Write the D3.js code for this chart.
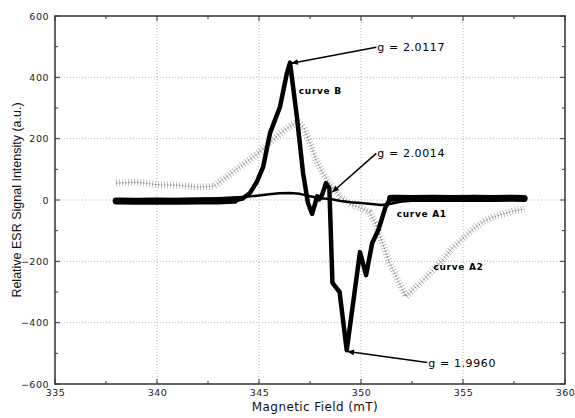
<!DOCTYPE html>
<html>
<head>
<meta charset="utf-8">
<script src="https://cdn.jsdelivr.net/npm/d3@7"></script>
<style>
  body { margin: 0; background: #fff; }
  svg { display: block; }
</style>
</head>
<body>
<div id="chart"></div>
<script>
// readings from the ESR spectrum (field in mT, intensity in a.u.)
const bField = [338, 339, 340, 341, 342, 343, 343.8, 344.2, 344.56, 344.9, 345.2, 345.54, 346.03, 346.37, 346.52,
  346.86, 347.16, 347.4, 347.6, 347.75, 347.85, 347.95, 348.1, 348.28, 348.45, 348.6, 348.95, 349.3,
  349.95, 350.25, 350.55, 350.85, 351.2, 351.45, 351.8, 352.5, 353.5, 354.5, 355.5, 356.5, 357.5, 358];
const bIntensity = [-3, -4, -3, -4, -3, -3, -1, 5, 23, 60, 107, 218, 304, 414, 448,
  270, 88, -10, -45, -12, 12, 2, 18, 55, 38, -270, -300, -490,
  -170, -245, -140, -98, -23, 6, 6, 5, 6, 5, 6, 5, 6, 5];

const a1Field = [338, 340, 342, 343, 344, 344.5, 345, 345.5, 346, 346.5, 347, 347.5, 348, 348.5, 349,
  349.5, 350, 350.5, 351, 351.4, 352, 353, 355, 358];
const a1Intensity = [0, 2, 4, 6, 9, 11, 15, 19, 22, 23, 20, 12, 6, 3, -3,
  -7, -10, -13, -16, -13, -5, 0, 2, 2];

const a2Field = [338, 339, 340, 341, 342, 342.8, 343.5, 344, 344.5, 345, 345.5, 346, 346.5, 346.9, 347.2,
  347.5, 347.8, 348.1, 348.5, 349, 349.5, 350, 350.4, 350.7, 351, 351.4, 351.8, 352.2, 352.6, 353,
  353.5, 354, 354.5, 355, 355.5, 356, 356.5, 357, 357.5, 358];
const a2Intensity = [55, 58, 50, 48, 42, 45, 80, 105, 130, 155, 185, 215, 240, 255, 235,
  185, 130, 90, 50, 10, -15, -25, -40, -75, -130, -205, -260, -315, -290, -265,
  -230, -195, -155, -125, -95, -70, -55, -45, -35, -30];

const xTicks = [335, 340, 345, 350, 355, 360];
const xMinorTicks = [337.5, 342.5, 347.5, 352.5, 357.5];
const yTicks = [-600, -400, -200, 0, 200, 400, 600];
const yMinorTicks = [-500, -300, -100, 100, 300, 500];

const curveLabels = [
  { text: "curve B", field: 346.95, value: 345 },
  { text: "curve A1", field: 351.75, value: -55 },
  { text: "curve A2", field: 353.55, value: -228 }
];
// arrow tip (field, value) -> tail (field, value), text starts at tail
const gLabels = [
  { text: "g = 2.0117", tip: [346.6, 446], tail: [350.75, 498] },
  { text: "g = 2.0014", tip: [348.6, 26], tail: [350.75, 152] },
  { text: "g = 1.9960", tip: [349.35, -494], tail: [353.25, -530] }
];

const width = 575, height = 418;
const margin = { top: 16, right: 10, bottom: 34, left: 55 };

const svg = d3.select("#chart").append("svg")
  .attr("width", width)
  .attr("height", height)
  .style("font-family", "'DejaVu Sans', sans-serif");

const x = d3.scaleLinear([335, 360], [margin.left, width - margin.right]);
const y = d3.scaleLinear([-600, 600], [height - margin.bottom, margin.top]);

// dotted grid
svg.append("g")
  .selectAll("line")
  .data(xTicks.slice(1, -1))
  .join("line")
  .attr("x1", d => x(d)).attr("x2", d => x(d))
  .attr("y1", y(600)).attr("y2", y(-600))
  .attr("stroke", "#b5b5b5").attr("stroke-width", 1)
  .attr("stroke-dasharray", "1,2");

svg.append("g")
  .selectAll("line")
  .data(yTicks.slice(1, -1))
  .join("line")
  .attr("x1", x(335)).attr("x2", x(360))
  .attr("y1", d => y(d)).attr("y2", d => y(d))
  .attr("stroke", "#b5b5b5").attr("stroke-width", 1)
  .attr("stroke-dasharray", "1,2");

const line = d3.line().x(d => x(d[0])).y(d => y(d[1]));

// curve A2: grey noisy trace
const a2 = d3.zip(a2Field, a2Intensity);
svg.append("path")
  .datum(a2)
  .attr("fill", "none")
  .attr("stroke", "#b0b0b0")
  .attr("stroke-width", 7)
  .attr("stroke-dasharray", "0.8,2.2")
  .attr("stroke-linejoin", "round")
  .attr("d", line);
svg.append("path")
  .datum(a2)
  .attr("fill", "none")
  .attr("stroke", "#777")
  .attr("stroke-width", 1)
  .attr("stroke-dasharray", "1.5,1.5")
  .attr("d", line);

// curve A1
svg.append("path")
  .datum(d3.zip(a1Field, a1Intensity))
  .attr("fill", "none")
  .attr("stroke", "#000")
  .attr("stroke-width", 2.5)
  .attr("stroke-linejoin", "round")
  .attr("d", line);

// curve B
const b = d3.zip(bField, bIntensity);
svg.append("path")
  .datum(b)
  .attr("fill", "none")
  .attr("stroke", "#000")
  .attr("stroke-width", 4.5)
  .attr("stroke-linejoin", "round")
  .attr("stroke-linecap", "round")
  .attr("d", line);
// noisy baseline stretches look thicker
svg.append("path")
  .datum(b)
  .attr("fill", "none")
  .attr("stroke", "#000")
  .attr("stroke-width", 7)
  .attr("stroke-linecap", "round")
  .attr("d", line.defined(d => d[0] <= 343.8 || d[0] >= 351.45));

// frame + ticks
svg.append("rect")
  .attr("x", x(335)).attr("y", y(600))
  .attr("width", x(360) - x(335)).attr("height", y(-600) - y(600))
  .attr("fill", "none").attr("stroke", "#333").attr("stroke-width", 1.5);

const tickGroup = svg.append("g").attr("stroke", "#333").attr("stroke-width", 1);
[{ vals: xTicks, len: 5 }, { vals: xMinorTicks, len: 3 }].forEach(s => {
  s.vals.forEach(v => {
    tickGroup.append("line").attr("x1", x(v)).attr("x2", x(v))
      .attr("y1", y(-600)).attr("y2", y(-600) - s.len);
    tickGroup.append("line").attr("x1", x(v)).attr("x2", x(v))
      .attr("y1", y(600)).attr("y2", y(600) + s.len);
  });
});
[{ vals: yTicks, len: 5 }, { vals: yMinorTicks, len: 3 }].forEach(s => {
  s.vals.forEach(v => {
    tickGroup.append("line").attr("y1", y(v)).attr("y2", y(v))
      .attr("x1", x(335)).attr("x2", x(335) + s.len);
    tickGroup.append("line").attr("y1", y(v)).attr("y2", y(v))
      .attr("x1", x(360)).attr("x2", x(360) - s.len);
  });
});

// tick labels via axes (ticks hidden, frame already drawn)
svg.append("g")
  .attr("transform", `translate(0,${y(-600)})`)
  .call(d3.axisBottom(x).tickValues(xTicks).tickFormat(d3.format("d")).tickSize(0).tickPadding(5))
  .call(g => g.select(".domain").remove())
  .call(g => g.selectAll("text")
    .attr("font-size", 9.5).attr("letter-spacing", 0.5)
    .attr("font-family", "'DejaVu Sans', sans-serif").attr("fill", "#222"));

svg.append("g")
  .attr("transform", `translate(${x(335)},0)`)
  .call(d3.axisLeft(y).tickValues(yTicks).tickFormat(d3.format("d")).tickSize(0).tickPadding(6))
  .call(g => g.select(".domain").remove())
  .call(g => g.selectAll("text")
    .attr("font-size", 9.5).attr("letter-spacing", 0.5)
    .attr("font-family", "'DejaVu Sans', sans-serif").attr("fill", "#222"));

// axis titles
svg.append("text")
  .attr("x", (x(335) + x(360)) / 2 + 5)
  .attr("y", height - 7)
  .attr("text-anchor", "middle")
  .attr("font-size", 12)
  .attr("letter-spacing", 0.4)
  .attr("fill", "#111")
  .text("Magnetic Field (mT)");

svg.append("text")
  .attr("transform", `translate(21,${(y(600) + y(-600)) / 2}) rotate(-90)`)
  .attr("text-anchor", "middle")
  .attr("font-family", "'Liberation Sans', Arial, sans-serif")
  .attr("font-size", 12.5)
  .attr("fill", "#111")
  .text("Relative ESR Signal Intensity (a.u.)");

// curve labels
svg.append("g")
  .selectAll("text")
  .data(curveLabels)
  .join("text")
  .attr("x", d => x(d.field))
  .attr("y", d => y(d.value))
  .attr("font-size", 9)
  .attr("font-weight", "bold")
  .attr("letter-spacing", 0.7)
  .attr("fill", "#000")
  .text(d => d.text);

// g-value arrows
svg.append("defs").append("marker")
  .attr("id", "head")
  .attr("viewBox", "0 0 10 10")
  .attr("refX", 9).attr("refY", 5)
  .attr("markerWidth", 8).attr("markerHeight", 7)
  .attr("markerUnits", "userSpaceOnUse")
  .attr("orient", "auto")
  .append("path").attr("d", "M0,1L10,5L0,9Z").attr("fill", "#000");

const ann = svg.append("g").selectAll("g").data(gLabels).join("g");
ann.append("line")
  .attr("x1", d => x(d.tail[0])).attr("y1", d => y(d.tail[1]))
  .attr("x2", d => x(d.tip[0])).attr("y2", d => y(d.tip[1]))
  .attr("stroke", "#000").attr("stroke-width", 1.5)
  .attr("marker-end", "url(#head)");
ann.append("text")
  .attr("x", d => x(d.tail[0]) + 1)
  .attr("y", d => y(d.tail[1]) + 4)
  .attr("font-size", 11)
  .attr("letter-spacing", 0.6)
  .attr("fill", "#000")
  .text(d => d.text);
</script>
</body>
</html>
